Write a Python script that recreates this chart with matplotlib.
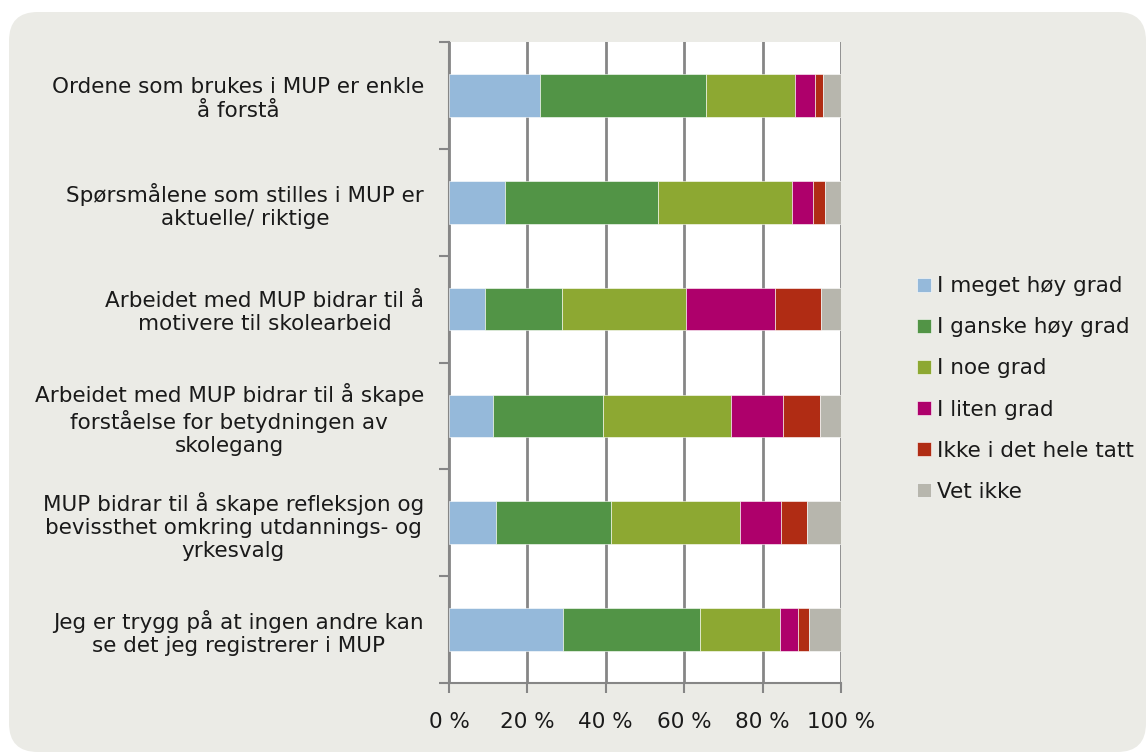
import matplotlib
matplotlib.use("Agg")
import matplotlib.pyplot as plt
from matplotlib.patches import FancyBboxPatch
import numpy as np

categories = [
    "Ordene som brukes i MUP er enkle\nå forstå",
    "Spørsmålene som stilles i MUP er\naktuelle/ riktige",
    "Arbeidet med MUP bidrar til å\nmotivere til skolearbeid",
    "Arbeidet med MUP bidrar til å skape\nforståelse for betydningen av\nskolegang",
    "MUP bidrar til å skape refleksjon og\nbevissthet omkring utdannings- og\nyrkesvalg",
    "Jeg er trygg på at ingen andre kan\nse det jeg registrerer i MUP",
]
series_names = ["I meget høy grad", "I ganske høy grad", "I noe grad",
                "I liten grad", "Ikke i det hele tatt", "Vet ikke"]
meget_hoy = [23.1, 14.2, 9.2, 11.1, 12.1, 29.0]
ganske_hoy = [42.5, 39.0, 19.6, 28.2, 29.2, 35.0]
noe = [22.6, 34.4, 31.7, 32.6, 33.0, 20.4]
liten = [5.2, 5.3, 22.6, 13.4, 10.5, 4.7]
ikke = [2.1, 3.0, 11.8, 9.3, 6.5, 2.7]
vet_ikke = [4.5, 4.1, 5.1, 5.4, 8.7, 8.2]
xtick_labels = ["0 %", "20 %", "40 %", "60 %", "80 %", "100 %"]

series = [meget_hoy, ganske_hoy, noe, liten, ikke, vet_ikke]
colors = ["#95B9DA", "#529446", "#8DA832", "#AE006B", "#B02C14", "#B7B6AD"]

plt.rcParams['font.family'] = ['DejaVu Sans']
FS = 15.5
W, H = 1148, 753
fig = plt.figure(figsize=(W / 100, H / 100), dpi=100)
fig.patch.set_facecolor("white")

bg = FancyBboxPatch((9 / W, 1 / H), (W - 9 - 2) / W, (H - 12 - 1) / H,
                    boxstyle="round,pad=0,rounding_size=0.025",
                    transform=fig.transFigure, facecolor="#EBEBE6",
                    edgecolor="none", zorder=-10, mutation_aspect=W / H)
fig.patches.append(bg)

ax = fig.add_axes([449 / W, 1 - 683 / H, (841 - 449) / W, (683 - 42) / H])
ax.set_zorder(1)
ax.set_facecolor("white")

y = np.arange(len(categories))
left = np.zeros(len(categories))
for vals, name, c in zip(series, series_names, colors):
    ax.barh(y, vals, left=left, height=0.4, color=c, label=name,
            edgecolor="white", linewidth=0.4, zorder=3)
    left += np.array(vals)

ax.set_xlim(0, 100)
ax.set_ylim(len(categories) - 0.5, -0.5)
ax.set_xticks(np.arange(0, 101, 20))
ax.set_xticklabels(xtick_labels, fontsize=FS, color="#1a1a1a")
ax.tick_params(axis="x", length=7, width=1.5, color="#868686", pad=14)

ax.set_yticks(np.arange(-0.5, len(categories), 1.0))
ax.set_yticklabels([])
ax.tick_params(axis="y", which="major", length=7, width=1.5, color="#868686")
ax.set_yticks(y, minor=True)
ax.set_yticklabels(categories, minor=True, fontsize=FS, color="#1a1a1a",
                   multialignment="center", linespacing=1.2)
ax.tick_params(axis="y", which="minor", length=0, pad=18)

ax.grid(axis="x", color="#868686", linewidth=2, zorder=1)
for s in ["top", "right"]:
    ax.spines[s].set_visible(False)
for s in ["left", "bottom"]:
    ax.spines[s].set_color("#868686")
    ax.spines[s].set_linewidth(1.5)

handles, labels = ax.get_legend_handles_labels()
leg = fig.legend(handles, labels, loc="center left",
                 bbox_to_anchor=(908 / W, 1 - 389 / H), frameon=False,
                 fontsize=FS, handlelength=0.65, handleheight=0.65,
                 handletextpad=0.3, labelspacing=0.98, borderaxespad=0)
for t in leg.get_texts():
    t.set_color("#1a1a1a")

fig.savefig("out.png", dpi=100, facecolor=fig.get_facecolor())
